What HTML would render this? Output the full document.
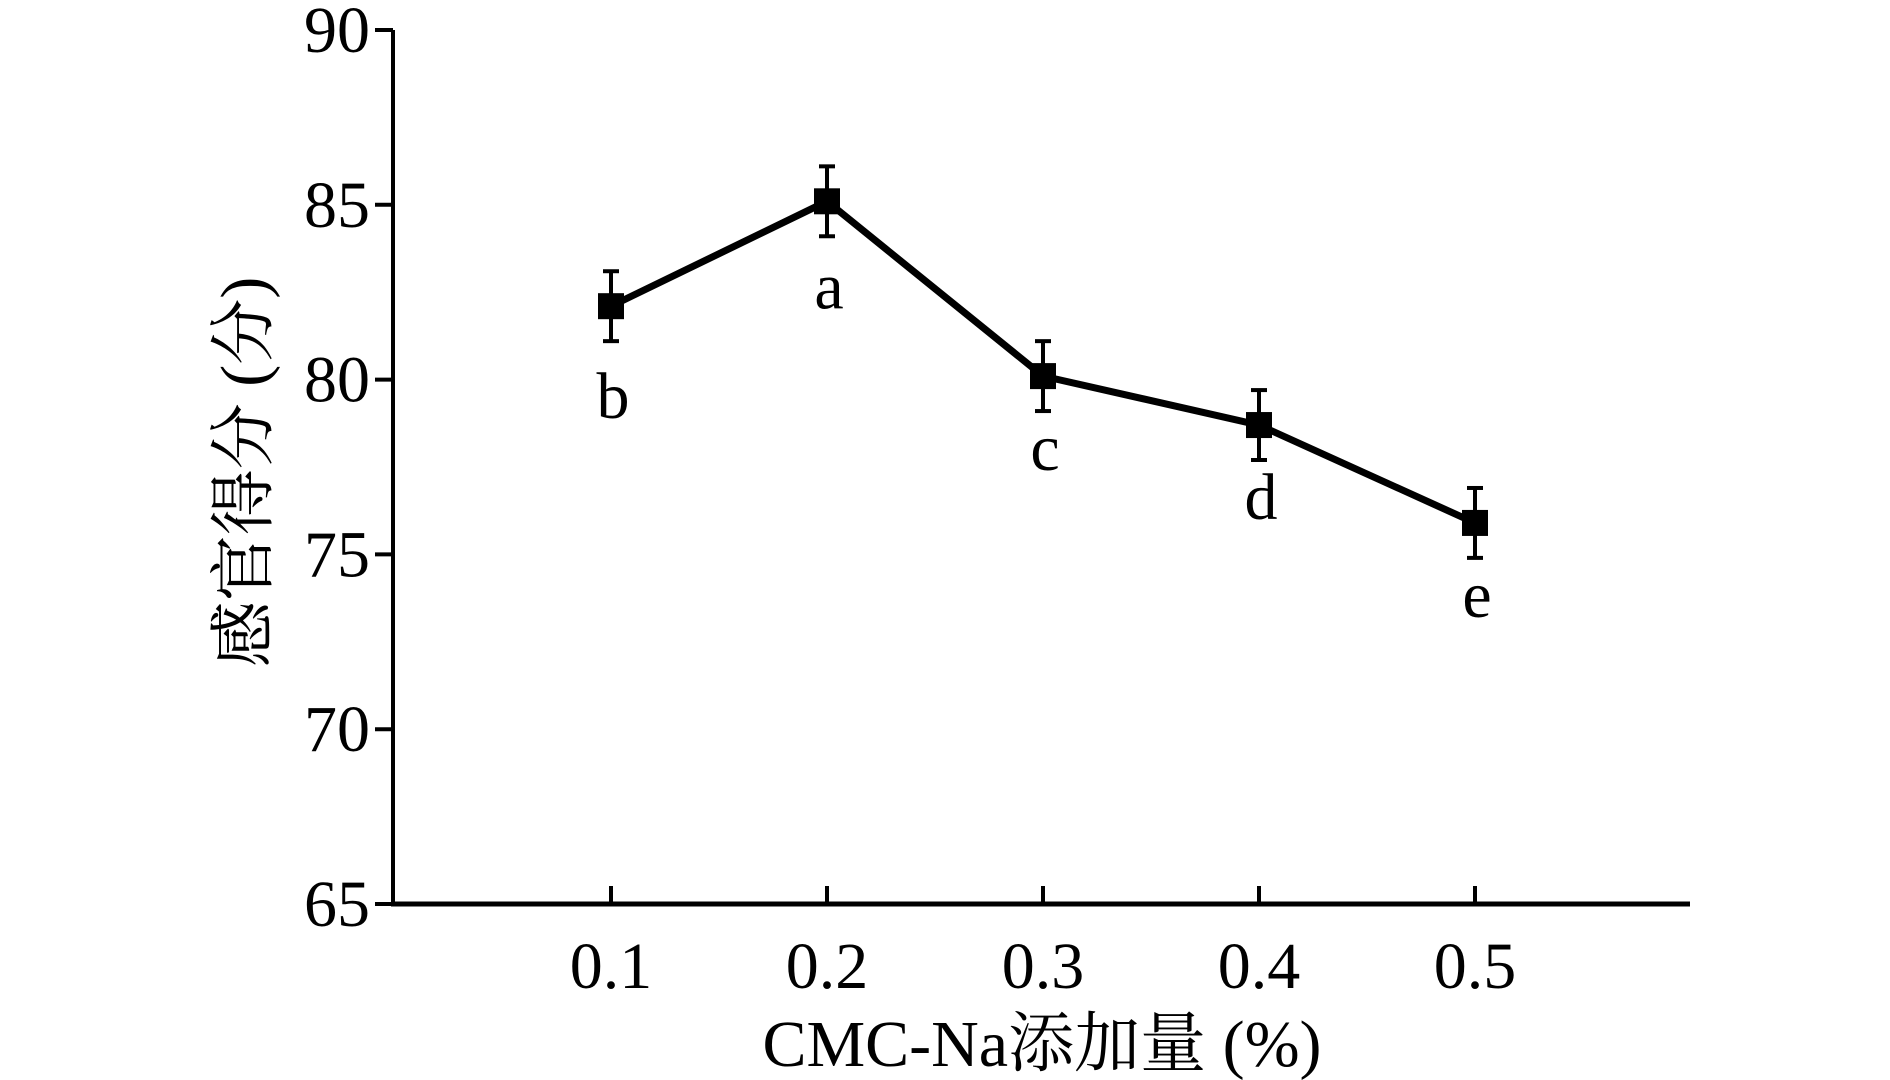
<!DOCTYPE html>
<html><head><meta charset="utf-8"><style>
html,body{margin:0;padding:0;background:#fff}
svg{display:block}
text{font-family:"Liberation Serif","Noto Serif CJK SC",serif;fill:#000}
</style></head><body>
<svg id="chart" width="1890" height="1080" viewBox="0 0 1890 1080" xmlns="http://www.w3.org/2000/svg"></svg>
<script>
const categories = ["0.1","0.2","0.3","0.4","0.5"];
const scores = [82.1, 85.1, 80.1, 78.7, 75.9];
const errors = [1.0, 1.0, 1.0, 1.0, 1.0];
const letters = ["b","a","c","d","e"];
const letterBelow = [true,false,true,true,true];
const yTicks = [65,70,75,80,85,90];

const svg = document.getElementById('chart');
const NS = 'http://www.w3.org/2000/svg';
const X0 = 393, X1 = 1690, Y0 = 904, Y1 = 30;
const xFirst = 611, xLast = 1475;
function xs(i){ return xFirst + i*(xLast-xFirst)/(categories.length-1); }
function ys(v){ return Y0 - (v-65)/(90-65)*(Y0-Y1); }
function mk(tag, attrs, name){
  const e = document.createElementNS(NS, tag);
  for (const k in attrs) e.setAttribute(k, attrs[k]);
  
  
  svg.appendChild(e);
  return e;
}
mk('line',{x1:X0,y1:Y1,x2:X0,y2:Y0+2,stroke:'#000','stroke-width':4},'y-axis');
mk('line',{x1:X0-2,y1:Y0,x2:X1,y2:Y0,stroke:'#000','stroke-width':5},'x-axis');
yTicks.forEach(v=>{
  const y = ys(v);
  mk('line',{x1:X0-18,y1:y,x2:X0,y2:y,stroke:'#000','stroke-width':4},'y-tick');
  const t = mk('text',{x:370,y:y+22,'font-size':66,'text-anchor':'end'},'y-tick-label');
  t.textContent = v;
});
categories.forEach((c,i)=>{
  const x = xs(i);
  mk('line',{x1:x,y1:Y0-18,x2:x,y2:Y0,stroke:'#000','stroke-width':4},'x-tick');
  const t = mk('text',{x:x,y:988,'font-size':66,'text-anchor':'middle'},'x-tick-label');
  t.textContent = c;
});
const xt = mk('text',{x:1042,y:1066,'font-size':66,'text-anchor':'middle'},'x-axis-title');
xt.textContent = 'CMC-Na添加量 (%)';
const yt = mk('text',{x:0,y:0,'font-size':66,'text-anchor':'middle',transform:'translate(266,472) rotate(-90)'},'y-axis-title');
yt.textContent = '感官得分 (分)';
const pts = scores.map((v,i)=>xs(i)+','+ys(v)).join(' ');
mk('polyline',{points:pts,fill:'none',stroke:'#000','stroke-width':7,'stroke-linejoin':'miter'},'score-line');
scores.forEach((v,i)=>{
  const x = xs(i), yt1 = ys(v+errors[i]), yb = ys(v-errors[i]);
  mk('line',{x1:x,y1:yt1,x2:x,y2:yb,stroke:'#000','stroke-width':4},'error-bar');
  mk('line',{x1:x-8,y1:yt1,x2:x+8,y2:yt1,stroke:'#000','stroke-width':4},'error-cap-top');
  mk('line',{x1:x-8,y1:yb,x2:x+8,y2:yb,stroke:'#000','stroke-width':4},'error-cap-bottom');
  mk('rect',{x:x-13,y:ys(v)-13,width:26,height:26,fill:'#000'},'data-point');
  const ly = letterBelow[i] ? ys(v)+ (i===0?112:94) : ys(v)+107;
  const t = mk('text',{x:x+2,y:ly,'font-size':66,'text-anchor':'middle'},'significance-letter');
  t.textContent = letters[i];
});
</script>
</body></html>
